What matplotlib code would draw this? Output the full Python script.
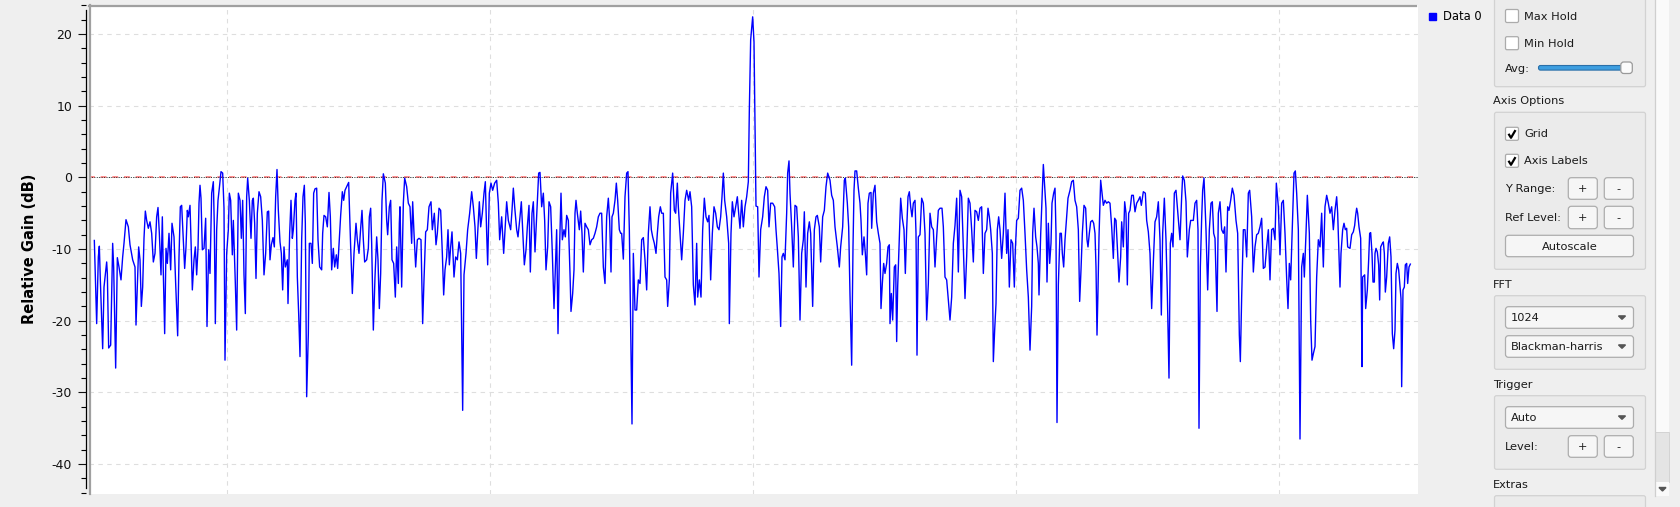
import matplotlib
matplotlib.use('Agg')
import matplotlib.pyplot as plt
from matplotlib.patches import FancyBboxPatch, Rectangle, Polygon
from matplotlib.ticker import MultipleLocator

plt.rcParams['axes.unicode_minus'] = False
plt.rcParams['font.family'] = 'DejaVu Sans'

# frequency offset of each trace vertex (Hz)
freq_hz = [
    -1977, -1970, -1965, -1962, -1959, -1952, -1948, -1940, -1938, -1934,
    -1928, -1922, -1919, -1913, -1908, -1903, -1897, -1892, -1888, -1882,
    -1875, -1870, -1862, -1855, -1852, -1848, -1844, -1840, -1836, -1832,
    -1828, -1824, -1820, -1815, -1810, -1805, -1800, -1795, -1790, -1786,
    -1782, -1777, -1773, -1770, -1766, -1762, -1758, -1753, -1748, -1744,
    -1738, -1733, -1727, -1723, -1719, -1715, -1710, -1706, -1702, -1698,
    -1695, -1690, -1687, -1683, -1678, -1674, -1670, -1666, -1663, -1660,
    -1657, -1653, -1648, -1643, -1639, -1634, -1630, -1625, -1620, -1617,
    -1614, -1610, -1606, -1602, -1597, -1592, -1588, -1585, -1580, -1575,
    -1572, -1568, -1563, -1560, -1554, -1550, -1545, -1540, -1536, -1532,
    -1528, -1524, -1520, -1517, -1512, -1507, -1503, -1500, -1496, -1492,
    -1488, -1483, -1478, -1473, -1468, -1463, -1458, -1454, -1450, -1446,
    -1441, -1437, -1433, -1429, -1425, -1420, -1416, -1412, -1408, -1404,
    -1398, -1396, -1391, -1387, -1383, -1380, -1375, -1372, -1368, -1364,
    -1360, -1355, -1351, -1347, -1344, -1340, -1335, -1332, -1327, -1323,
    -1319, -1315, -1310, -1306, -1301, -1295, -1292, -1288, -1283, -1278,
    -1273, -1269, -1265, -1260, -1256, -1251, -1247, -1242, -1238, -1233,
    -1229, -1225, -1220, -1214, -1208, -1203, -1198, -1192, -1188, -1183,
    -1178, -1174, -1170, -1166, -1160, -1155, -1152, -1148, -1145, -1140,
    -1135, -1130, -1126, -1122, -1118, -1114, -1110, -1104, -1100, -1097,
    -1092, -1088, -1084, -1079, -1074, -1070, -1065, -1062,
    -1060, -1055, -1050, -1046, -1040, -1035, -1030, -1025, -1022, -1018,
    -1013, -1008, -1003, -997, -992, -988, -983, -978, -973, -967,
    -963, -957, -952, -948, -943, -938, -933, -929, -925, -920,
    -916, -912, -908, -904, -898, -893, -888, -883, -878, -872,
    -868, -862, -857, -851, -845, -840, -835, -831, -827, -822,
    -818, -813, -808, -804, -800, -797, -792, -787, -782, -776,
    -770, -765, -761, -755, -749, -745, -740, -735, -728, -724,
    -720, -716, -710, -706, -700, -696, -692, -687, -682, -678,
    -673, -669, -664, -660, -655, -650, -644, -640, -635, -630,
    -626, -622, -617, -613, -608, -603, -598, -593, -590, -586,
    -582, -577, -573, -568, -564, -560, -555, -550, -547, -542,
    -538, -535, -532, -528, -522, -518, -514, -510, -505, -500,
    -495, -490, -485, -480, -475, -470, -465, -460, -455, -450,
    -445, -440, -435, -431, -427, -424, -420, -415, -411, -407,
    -402, -398, -395, -390, -385, -380, -376, -372, -368, -364,
    -360, -355, -350, -345, -340, -335, -330, -325, -320, -315,
    -310, -306, -302, -297, -292, -288, -284, -279, -275, -270,
    -265, -260, -257, -252, -248, -242, -237, -233, -228, -225,
    -220, -215, -210, -205, -200, -194, -190, -185, -180, -175,
    -170, -167, -162, -157, -152, -147, -142, -137, -133, -128,
    -123, -118, -113, -108, -103, -98, -94, -90, -86, -80,
    -74, -72, -67, -63, -58, -53, -48, -44, -40, -35,
    -30, -25, -20, -15, -12, -8, -5, -2, 2, 5,
    8, 13, 17, 22, 28, 33, 38, 43, 47, 52,
    58, 64, 68, 72, 77, 82, 86, 90, 95, 100,
    103, 107, 110, 115, 120, 125, 130, 135, 140, 145,
    150, 153, 158, 163, 168, 172, 178, 183, 188, 192,
    198, 202, 208, 213, 218, 223, 230, 235, 240, 245,
    252, 258, 262, 268, 273, 276, 282, 286,
    290, 295, 299, 302, 305, 310, 315, 320, 323, 327,
    332, 336, 340, 344, 348, 353, 355, 360, 365, 370,
    375, 380, 383, 387, 391, 395, 400, 404, 408, 410,
    414, 418, 423, 427, 430, 433, 437, 442, 447, 452,
    456, 460, 464, 468, 472, 476, 480, 485, 488, 491,
    495, 500, 505, 510, 515, 520, 525, 530, 535, 540,
    545, 550, 555, 560, 566, 570, 575, 580, 585, 590,
    595, 600, 605, 610, 615, 620, 625, 630, 635, 640,
    645, 650, 655, 660, 665, 670, 675, 680, 685, 690,
    695, 700, 704, 708, 712, 717, 720, 724, 728, 732,
    736, 740, 745, 750, 755, 760, 764, 768, 773, 778,
    783, 786, 790, 795, 800, 805, 810, 815, 820, 825,
    830, 835, 838, 842, 847, 851, 855, 857, 862, 866,
    870, 874, 878, 881, 885, 889, 893, 896, 901, 905,
    908, 911, 915, 920, 924, 927, 931, 935, 940, 944,
    950, 955, 960, 965, 970, 975, 979, 983, 987, 992,
    997, 1001, 1004, 1008, 1012, 1017, 1021, 1025, 1028, 1031,
    1034, 1037, 1042, 1046, 1050, 1055, 1060, 1065, 1070, 1075,
    1080, 1084, 1088, 1093, 1097, 1102, 1105, 1110, 1114, 1118,
    1122, 1126, 1130, 1135, 1140, 1145, 1150, 1155, 1160, 1164,
    1170, 1176, 1180, 1185, 1190, 1195, 1200, 1205, 1210, 1215,
    1220, 1224, 1228, 1233, 1238, 1242, 1247, 1251, 1255, 1259,
    1263, 1268, 1272, 1277, 1280, 1285, 1288, 1293, 1298, 1302,
    1308, 1312, 1320, 1325, 1330, 1334, 1337, 1341, 1345, 1348,
    1352, 1358, 1363, 1368, 1373, 1377, 1381, 1385, 1391, 1395,
    1400, 1405, 1410, 1414, 1418, 1423, 1427, 1432, 1437, 1442,
    1448, 1453, 1458, 1461, 1465, 1470, 1475, 1480, 1485, 1489,
    1495, 1500, 1505, 1510, 1515, 1520, 1525, 1530, 1535, 1540,
    1545, 1550, 1555, 1560, 1565, 1569, 1575, 1580, 1585, 1590,
    1595, 1600, 1604, 1608, 1612, 1617, 1622, 1626, 1630, 1635,
    1640, 1645, 1650, 1653, 1658, 1662, 1668, 1672, 1676, 1680,
    1685, 1690, 1695, 1700, 1705, 1710, 1715, 1720, 1725, 1730,
    1735, 1740, 1745, 1750, 1753,
    1760, 1763, 1768, 1772, 1776, 1780, 1783, 1790, 1795, 1800,
    1804, 1807, 1810, 1813, 1817, 1822, 1824, 1826, 1828, 1834,
    1837, 1842, 1846, 1849, 1852, 1856, 1859, 1863, 1865, 1868,
    1872, 1876, 1879, 1882, 1887, 1890, 1893, 1896, 1900, 1905,
    1909, 1913, 1917, 1921, 1925, 1928, 1932, 1936, 1940, 1943,
    1945, 1949, 1953, 1956, 1960, 1963, 1967, 1971,
]

# relative gain at each vertex (dB)
gain_db = [
    -8.8, -20.4, -11.1, -9.6, -14.3, -23.9, -15.3, -11.8, -13.4, -23.8,
    -23.4, -9.2, -12.5, -26.6, -11.2, -12.5, -14.3, -11.1, -9.2, -5.9,
    -6.9, -9.4, -11.5, -12.5, -20.6, -15.3, -9.7, -11.5, -18.0, -15.3,
    -8.5, -4.7, -6.0, -7.1, -6.2, -7.8, -11.8, -10.6, -5.5, -4.2,
    -7.8, -13.6, -5.5, -13.4, -21.8, -9.9, -12.0, -7.8, -12.9, -6.4,
    -8.3, -14.8, -22.1, -11.1, -4.1, -3.9, -8.7, -12.7, -9.7, -4.6,
    -5.5, -3.9, -8.7, -15.7, -11.5, -9.7, -13.6, -9.9, -3.6, -1.1,
    -2.9, -10.1, -9.9, -5.7, -20.8, -10.1, -13.4, -2.2, -0.6, -6.9,
    -20.4, -7.3, -3.2, -1.5, 0.8, 0.6, -4.3, -25.5, -10.6, -7.3,
    -2.2, -3.2, -10.8, -6.0, -14.8, -21.3, -2.2, -3.2, -8.5, -3.2,
    -13.6, -19.0, -2.7, -0.1, -3.2, -8.5, -3.2, -2.9, -6.4, -14.1,
    -5.0, -2.0, -2.7, -6.0, -13.6, -10.6, -4.8, -4.7, -11.5, -9.4,
    -8.4, -9.7, -2.7, 1.1, -4.6, -9.0, -10.6, -15.7, -9.7, -12.5,
    -11.5, -17.6, -7.8, -3.2, -8.5, -7.3, -3.2, -2.2, -13.9, -19.0,
    -25.0, -8.7, -2.7, -1.1, -6.4, -30.6, -21.8, -9.2, -9.2, -12.0,
    -2.2, -1.6, -1.5, -8.7, -12.5, -12.9, -7.8, -5.3, -5.5, -6.9,
    -2.1, -5.5, -12.9, -9.9, -12.5, -10.8, -12.7, -8.7, -5.3, -2.0,
    -3.2, -1.8, -1.3, -0.7, -9.7, -16.2, -10.6, -6.4, -8.7, -10.6,
    -7.1, -4.6, -8.7, -11.8, -11.5, -9.9, -5.5, -4.3, -9.2, -21.3,
    -13.9, -8.3, -11.5, -18.3, -13.4, -3.2, 0.5, -0.8, -6.0, -8.0,
    -4.1, -3.2, -11.5, -12.0, -16.7, -9.7, -14.8, -6.4,
    -4.1, -15.3, -3.6, -0.1, -1.3, -3.6, -4.1, -9.2, -3.4, -7.8,
    -12.5, -8.7, -8.5, -8.7, -20.4, -14.3, -7.6, -7.3, -4.1, -3.4,
    -7.3, -5.0, -9.4, -7.8, -4.3, -4.6, -10.6, -16.4, -12.9, -11.1,
    -7.3, -12.2, -9.7, -7.6, -13.9, -11.1, -11.5, -9.0, -10.6, -32.5,
    -13.6, -10.6, -7.3, -5.0, -2.0, -4.1, -6.9, -11.3, -7.8, -3.4,
    -6.9, -5.0, -2.2, -0.6, -7.8, -12.2, -2.2, -0.8, -1.8, -0.8,
    -0.4, -3.6, -8.7, -5.5, -10.6, -7.3, -3.4, -6.0, -7.3, -4.6,
    -1.5, -4.1, -7.3, -8.3, -5.5, -3.4, -7.3, -12.2, -10.1, -6.9,
    -3.9, -13.2, -5.0, -3.4, -10.4, -5.5, 0.6, 0.7, -4.1, -2.2,
    -6.0, -12.9, -9.7, -3.4, -4.1, -10.6, -18.3, -11.5, -7.3, -21.8,
    -11.1, -2.2, -8.7, -7.3, -8.3, -5.3, -6.0, -13.4, -18.7, -16.2,
    -12.9, -5.0, -3.2, -5.0, -7.3, -4.7, -7.8, -13.2, -6.4, -6.9,
    -7.3, -9.4, -8.7, -8.5, -7.8, -6.9, -5.5, -5.0, -5.0, -12.5,
    -14.8, -5.5, -2.9, -6.0, -13.2, -5.5, -5.0, -3.2, -0.8, -3.2,
    -7.3, -7.8, -7.8, -11.4, -2.7, 0.6, 0.8, -7.3, -20.8, -34.4,
    -10.6, -18.5, -18.5, -14.3, -14.8, -8.7, -8.4, -11.5, -15.7, -7.8,
    -4.1, -7.3, -8.3, -9.2, -10.6, -7.8, -5.5, -4.1, -5.0, -5.0,
    -13.9, -14.3, -18.0, -14.3, -2.2, 0.6, -4.6, -5.0, -0.8, -4.1,
    -7.8, -11.5, -7.8, -3.2, -1.8, -3.2, -2.0, -4.1, -15.0, -17.8,
    -9.2, -16.7, -14.3, -16.7, -7.3, -2.9, -5.5, -6.2, -5.3, -14.3,
    -7.8, -4.1, -5.0, -6.9, -7.3, -5.5, -2.7, 0.6, -3.2, -5.5,
    -9.2, -20.4, -7.8, -3.4, -5.5, -4.1, -2.7, -5.0, -7.1, -3.2,
    -6.9, -4.1, -2.7, -0.6, 9.4, 19.2, 20.8, 22.4, 18.9, 7.1,
    -4.0, -4.1, -13.9, -7.3, -5.5, -2.7, -1.3, -1.8, -6.9, -3.6,
    -3.6, -4.1, -7.3, -9.9, -13.4, -20.8, -11.1, -10.6, -11.5, -5.0,
    0.6, 2.3, -2.2, -6.9, -12.5, -3.9, -4.1, -8.3, -19.9, -10.6,
    -8.7, -4.8, -15.3, -7.8, -6.2, -7.8, -18.0, -7.3, -5.5, -5.3,
    -6.9, -11.8, -5.5, -4.6, -1.3, 0.6, -0.4, -2.5, -3.2, -6.9,
    -9.7, -12.5, -9.7, -6.9, -0.4, -0.1, -3.6, -6.9,
    -16.4, -26.2, -9.7, -1.8, 0.9, 0.9, -1.5, -3.6, -6.0, -10.8,
    -8.3, -10.6, -13.6, -3.6, -2.2, -2.1, -7.1, -2.2, -1.1, -6.2,
    -7.8, -9.2, -18.3, -14.8, -12.0, -13.4, -12.0, -9.7, -9.4, -20.4,
    -16.2, -19.9, -12.5, -12.2, -22.9, -15.3, -9.7, -2.9, -5.7, -7.3,
    -13.4, -7.3, -2.7, -2.0, -4.1, -5.5, -3.6, -3.2, -7.8, -24.8,
    -8.3, -8.0, -2.9, -3.6, -7.8, -19.9, -14.8, -5.0, -6.9, -7.3,
    -12.5, -8.3, -4.6, -4.3, -4.3, -6.9, -13.9, -14.3, -17.1, -19.9,
    -16.7, -9.2, -6.7, -2.9, -13.2, -1.8, -2.7, -9.7, -16.9, -11.1,
    -2.9, -3.6, -7.3, -11.8, -4.6, -4.8, -6.0, -4.3, -4.1, -13.4,
    -7.8, -7.3, -4.3, -5.5, -7.3, -10.6, -25.7, -21.3, -17.6, -7.3,
    -5.5, -7.3, -11.3, -7.8, -2.2, -10.6, -7.3, -15.3, -8.7, -9.2,
    -15.3, -10.1, -6.0, -5.7, -1.8, -1.5, -3.2, -7.8, -12.9, -16.7,
    -24.1, -18.0, -7.8, -4.3, -8.3, -9.7, -12.0, -16.4, -8.0, -3.2,
    1.8, -1.3, -4.3, -14.6, -6.4, -12.0, -9.2, -3.6, -2.2, -1.5,
    -7.8, -34.2, -15.0, -7.8, -7.8, -10.6, -12.5, -8.7, -5.5, -2.9,
    -1.8, -0.6, -0.4, -3.2, -4.1, -7.3, -17.3, -12.9, -7.8, -3.9,
    -4.3, -8.7, -9.7, -7.8, -6.2, -6.0, -6.4, -7.8, -12.5, -22.0,
    -15.7, -8.3, -0.4, -2.2, -3.9, -3.2, -3.6, -3.4, -3.6, -6.9,
    -11.3, -5.7, -6.0, -10.6, -14.6, -11.1, -6.2, -9.7, -3.4, -5.0,
    -15.0, -5.0, -4.6, -2.5, -2.5, -4.8, -3.6, -3.2, -2.7, -3.9,
    -2.0, -2.2, -6.0, -7.6, -10.6, -18.3, -11.8, -6.2, -5.5, -3.4,
    -8.7, -19.2, -7.8, -2.9, -8.7, -16.2, -28.0, -9.2, -7.8, -9.7,
    -2.2, -1.8, -4.1, -7.1, -8.7, -2.7, 0.2, -0.4, -3.4, -11.1,
    -7.3, -6.0, -6.0, -3.6, -3.2, -7.3, -35.0, -12.5, -5.7, -1.8,
    -0.1, -7.3, -15.7, -7.3, -3.6, -3.4, -7.8, -8.5, -18.7, -5.0,
    -3.4, -7.3, -7.8, -6.9, -13.2, -4.1, -4.6, -3.2, -1.5, -2.5,
    -6.0, -7.8, -22.0, -25.7, -16.7, -7.3, -7.3, -11.1, -2.2, -1.8,
    -5.5, -13.2, -9.7, -8.0, -7.8, -6.9, -5.7, -12.7, -12.5, -9.7,
    -7.3, -14.3, -7.3, -7.1, -8.7, -0.8, -4.1, -10.8, -3.6, -3.2,
    -7.8, -14.1, -18.3, -12.0, -14.3, -6.9, 0.6, 0.9, -2.2, -7.3,
    -36.5, -12.5, -10.6, -13.9, -7.8, -2.5, -7.8, -19.9, -25.5, -24.6,
    -23.6, -13.9, -8.7, -9.7, -5.0, -12.5, -4.1, -2.5, -3.6, -5.0,
    -4.1, -7.3, -4.6, -2.7, -5.0,
    -15.3, -10.6, -7.3, -6.4, -7.3, -7.1, -9.7, -9.9, -8.0, -7.6,
    -6.7, -5.3, -4.3, -5.0, -6.9, -8.5, -16.2, -26.4, -13.9, -13.6,
    -18.3, -15.7, -11.5, -7.8, -7.7, -10.6, -14.6, -14.6, -10.6, -9.9,
    -10.4, -12.2, -17.1, -9.7, -9.2, -9.0, -10.6, -16.0, -13.9, -9.2,
    -8.3, -11.1, -21.8, -23.9, -21.3, -13.4, -12.0, -12.9, -15.3, -16.9,
    -29.2, -15.7, -15.3, -12.2, -12.0, -14.8, -12.5, -12.1,
]

ref_level_db = 0
legend_label = 'Data 0'
y_label = 'Relative Gain (dB)'

print(len(freq_hz), len(gain_db))
n = min(len(freq_hz), len(gain_db))

W, H = 1680, 507
fig = plt.figure(figsize=(W / 100, H / 100), dpi=100, facecolor='#efefef')

# plot canvas (pixel box 89..1418 x 5..493.5)
ax = fig.add_axes([89 / W, 1 - 493.5 / H, (1418 - 89) / W, (493.5 - 5) / H])
ax.set_facecolor('white')
ax.plot(freq_hz[:n], gain_db[:n], color='#0000ff', lw=1.0, zorder=4)
ax.axhline(ref_level_db, color='#ff8c8c', lw=1.4, ls=(0, (3, 3)), zorder=3)
ax.axhline(ref_level_db, color='#203030', lw=0.7, ls=(0, (1, 1.5)), zorder=3)
ax.set_xlim(-1993, 1994)
ax.set_ylim(-44.1, 24.05)

ax.xaxis.set_major_locator(MultipleLocator(789))
ax.yaxis.set_major_locator(MultipleLocator(10))
ax.yaxis.set_minor_locator(MultipleLocator(2))
ax.grid(True, which='major', color='#dedede', lw=0.8, ls=(0, (4, 4)), zorder=1)
ax.tick_params(axis='x', bottom=False, labelbottom=False)
ax.tick_params(axis='y', which='major', direction='out', length=5.8, width=0.8,
               pad=4, labelsize=9, colors='#111111')
ax.tick_params(axis='y', which='minor', direction='out', length=3.4, width=0.8)
for s in ['top', 'right', 'bottom']:
    ax.spines[s].set_visible(False)
ax.spines['left'].set_position(('outward', 2.4))
ax.spines['left'].set_bounds(-43.3, 23.4)
ax.spines['left'].set_linewidth(0.9)
ax.set_ylabel(y_label, fontsize=10.5, fontweight='bold')
ax.yaxis.set_label_coords(-0.039, 0.5)

# overlay in pixel coordinates for the frame, legend and the control panel
ov = fig.add_axes([0, 0, 1, 1])
ov.set_xlim(0, W)
ov.set_ylim(H, 0)
ov.axis('off')
ov.patch.set_alpha(0)

ov.plot([89.8, 89.8], [5, 493.5], color='#a0a0a0', lw=1.6)
ov.plot([89, 1416], [5.6, 5.6], color='#a0a0a0', lw=1.6)

ov.add_patch(Rectangle((1429, 12.5), 7, 7, color='#0000ff'))
ov.text(1443, 16.5, legend_label, va='center', ha='left', fontsize=8.3)

FS = 8.2


def group_box(y0, y1):
    ov.add_patch(FancyBboxPatch((1494.5, y0), 151, y1 - y0,
                                boxstyle='round,pad=0,rounding_size=2',
                                fc='#ebebeb', ec='#d2d2d2', lw=0.9))


def label(x, y, s, ha='left'):
    ov.text(x, y, s, va='center', ha=ha, fontsize=FS, color='#1a1a1a')


def button(x0, y0, x1, y1, s, ha='center'):
    ov.add_patch(FancyBboxPatch((x0, y0), x1 - x0, y1 - y0,
                                boxstyle='round,pad=0,rounding_size=3',
                                fc='#f6f6f6', ec='#adadad', lw=0.9))
    if ha == 'center':
        label((x0 + x1) / 2, (y0 + y1) / 2 + 0.5, s, ha='center')
    else:
        label(x0 + 5.5, (y0 + y1) / 2 + 0.5, s)


def combo(y0, y1, s):
    button(1505.5, y0, 1633.5, y1, s, ha='left')
    ym = (y0 + y1) / 2
    ov.add_patch(Polygon([(1618.5, ym - 1.6), (1625.5, ym - 1.6), (1622, ym + 1.8)],
                         closed=True, color='#555555'))


def checkbox(y0, s, checked):
    ov.add_patch(FancyBboxPatch((1505.5, y0), 13, 13,
                                boxstyle='round,pad=0,rounding_size=1.5',
                                fc='white', ec='#ababab', lw=0.9))
    if checked:
        ov.plot([1508.5, 1511, 1515.5], [y0 + 6.5, y0 + 10.5, y0 + 2.8],
                color='black', lw=1.6, solid_capstyle='butt')
    label(1524.3, y0 + 7, s)


# panel groups
group_box(-5, 86.7)
checkbox(9.5, 'Max Hold', False)
checkbox(36.7, 'Min Hold', False)
label(1505.3, 68.5, 'Avg:')
ov.add_patch(FancyBboxPatch((1538.5, 65.5), 88, 4.6,
                            boxstyle='round,pad=0,rounding_size=2',
                            fc='#3d9ee0', ec='#2a6fa8', lw=0.8))
ov.add_patch(FancyBboxPatch((1620.8, 62), 11.5, 11.5,
                            boxstyle='round,pad=0,rounding_size=3',
                            fc='#fbfbfb', ec='#9a9a9a', lw=0.9))

label(1493.3, 101.5, 'Axis Options')
group_box(112.3, 269.3)
checkbox(127.3, 'Grid', True)
checkbox(154.3, 'Axis Labels', True)
label(1505.3, 189, 'Y Range:')
button(1568.3, 177.7, 1597.3, 199.3, '+')
button(1604.3, 177.7, 1633.3, 199.3, '-')
label(1505.3, 218, 'Ref Level:')
button(1568.3, 206.3, 1597.3, 228.7, '+')
button(1604.3, 206.3, 1633.3, 228.7, '-')
button(1505.5, 235.3, 1633.5, 256.7, 'Autoscale')

label(1493.3, 284.5, 'FFT')
group_box(295.7, 369.3)
combo(306.7, 328.3, '1024')
combo(335.7, 357.3, 'Blackman-harris')

label(1493.3, 385, 'Trigger')
group_box(395.7, 469.3)
combo(406.7, 428.3, 'Auto')
label(1505.3, 447, 'Level:')
button(1568.3, 435.7, 1597.3, 457.3, '+')
button(1604.3, 435.7, 1633.3, 457.3, '-')

label(1493.3, 485, 'Extras')
group_box(495.7, 530)

# scrollbar
ov.add_patch(Rectangle((1655.3, 0), 13.7, 431.7, fc='#fafafa', ec='none'))
ov.add_patch(Rectangle((1655.3, 431.7), 13.7, 50.6, fc='#e4e4e4', ec='#cfcfcf', lw=0.6))
ov.add_patch(Rectangle((1655.3, 482.3), 13.7, 13.5, fc='#fafafa', ec='none'))
ov.plot([1655.3, 1655.3], [0, 495.8], color='#cfcfcf', lw=0.9)
ov.add_patch(Polygon([(1659, 487.5), (1666, 487.5), (1662.5, 491)], closed=True, color='#555555'))

fig.savefig('out.png', dpi=100, facecolor=fig.get_facecolor())
